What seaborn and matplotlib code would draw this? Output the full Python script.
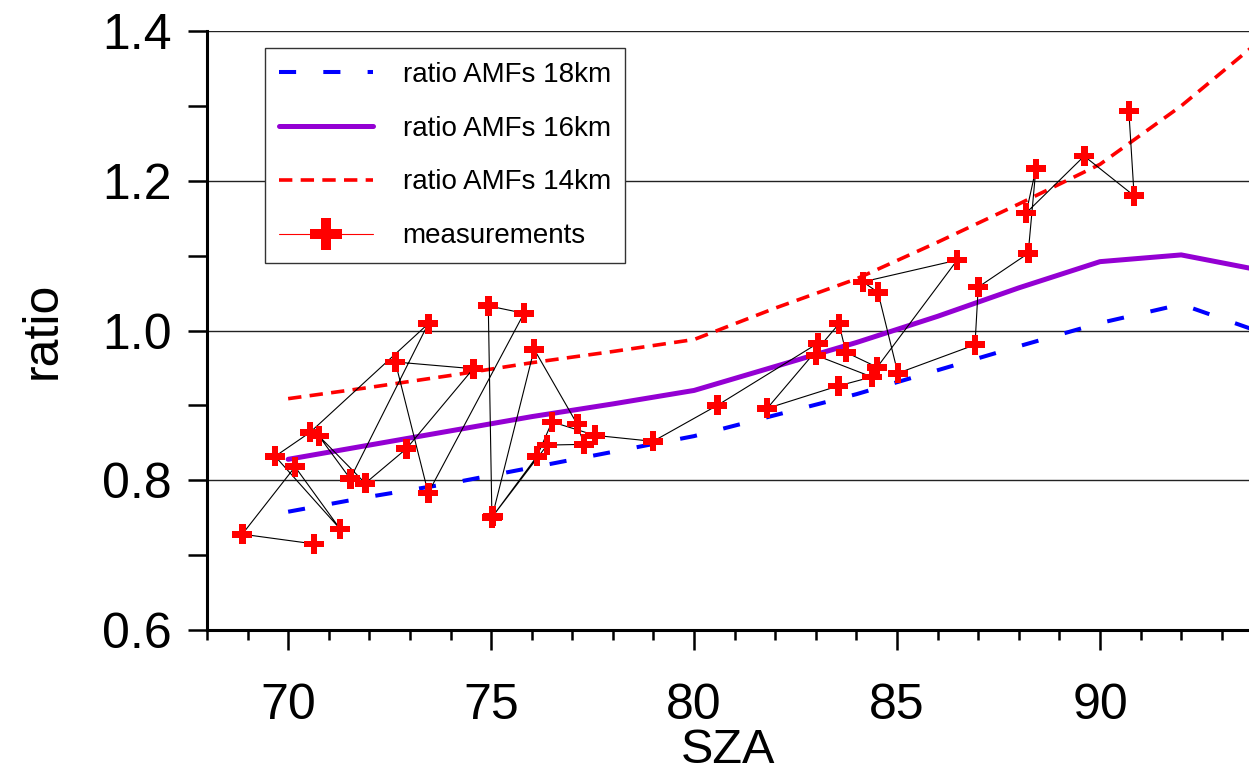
import matplotlib
matplotlib.use("Agg")
import matplotlib.pyplot as plt
from matplotlib.lines import Line2D
from matplotlib.ticker import MultipleLocator, FormatStrFormatter
import seaborn as sns

# Modelled AMF ratios on a 2-degree SZA grid
sza_model = [70, 72, 74, 76, 78, 80, 82, 84, 86, 88, 90, 92, 94]
ratio_18km = [0.758, 0.778, 0.796, 0.817, 0.838, 0.859, 0.887, 0.915, 0.947, 0.979, 1.010, 1.035, 0.997]
ratio_16km = [0.828, 0.847, 0.866, 0.885, 0.902, 0.920, 0.952, 0.984, 1.019, 1.057, 1.092, 1.101, 1.080]
ratio_14km = [0.909, 0.924, 0.940, 0.957, 0.972, 0.988, 1.030, 1.069, 1.118, 1.169, 1.222, 1.300, 1.390]

# Measured ratios, in acquisition order
sza_meas = [70.64, 68.87, 70.17, 71.28, 69.68, 70.54, 73.45, 71.53, 70.76, 71.90,
            72.91, 74.56, 72.64, 73.45, 75.81, 74.93, 75.02, 76.06, 77.12, 77.29,
            76.38, 75.04, 76.13, 76.50, 77.56, 78.99, 80.57, 83.05, 83.00, 84.38,
            83.55, 81.80, 83.57, 83.74, 84.51, 86.48, 84.16, 84.53, 85.02, 86.92,
            87.00, 88.23, 88.42, 88.18, 89.61, 90.84, 90.71]
ratio_meas = [0.715, 0.728, 0.818, 0.735, 0.832, 0.864, 1.009, 0.802, 0.859, 0.796,
              0.842, 0.949, 0.958, 0.783, 1.023, 1.033, 0.750, 0.975, 0.875, 0.848,
              0.847, 0.752, 0.832, 0.878, 0.860, 0.852, 0.900, 0.983, 0.967, 0.938,
              0.926, 0.896, 1.009, 0.971, 0.951, 1.094, 1.065, 1.051, 0.943, 0.981,
              1.058, 1.103, 1.216, 1.157, 1.233, 1.180, 1.293]

labels = ["ratio AMFs 18km", "ratio AMFs 16km", "ratio AMFs 14km", "measurements"]

sns.set_style("ticks")
plt.rcParams["font.family"] = ["Liberation Sans", "DejaVu Sans"]
plt.rcParams.update({
    "text.color": "black",
    "axes.labelcolor": "black",
    "xtick.color": "black",
    "ytick.color": "black",
})

fig = plt.figure(figsize=(12.49, 7.72), dpi=100)
ax = fig.add_axes([0.1657, 0.1839, 0.8343, 0.7759])

blue_ls = (0, (4.25, 6.75))
red_ls = (0, (3.7, 2.3))

sns.lineplot(x=sza_model, y=ratio_18km, ax=ax, color="#0000ff", lw=2.9,
             linestyle=blue_ls, estimator=None, zorder=3)
sns.lineplot(x=sza_model, y=ratio_16km, ax=ax, color="#9400d3", lw=3.6,
             estimator=None, zorder=3)
sns.lineplot(x=sza_model, y=ratio_14km, ax=ax, color="#ff0000", lw=2.6,
             linestyle=red_ls, estimator=None, zorder=3)

# thin black track joining the measurements in time order
sns.lineplot(x=sza_meas, y=ratio_meas, ax=ax, sort=False, estimator=None,
             color="black", lw=0.8, zorder=4)
sns.scatterplot(x=sza_meas, y=ratio_meas, ax=ax, marker="P", s=14.4 ** 2,
                color="#ff0000", edgecolor="none", linewidth=0, zorder=5)

handles = [
    Line2D([], [], color="#0000ff", lw=2.9, linestyle=blue_ls),
    Line2D([], [], color="#9400d3", lw=3.6),
    Line2D([], [], color="#ff0000", lw=2.6, linestyle=red_ls),
    Line2D([], [], color="#ff0000", lw=0.8, marker="P", markersize=23,
           markeredgewidth=0),
]
leg = ax.legend(handles, labels, loc="upper left", bbox_to_anchor=(0.0557, 0.9716),
                borderaxespad=0, frameon=True, fancybox=False, edgecolor="#333333",
                framealpha=1, fontsize=20, handlelength=3.4, handletextpad=1.05,
                labelspacing=1.0, borderpad=0.5)
leg.get_frame().set_linewidth(1.0)

ax.set_xlim(68, 93.67)
ax.set_ylim(0.6, 1.4)
ax.xaxis.set_major_locator(MultipleLocator(5))
ax.xaxis.set_minor_locator(MultipleLocator(1))
ax.yaxis.set_major_locator(MultipleLocator(0.2))
ax.yaxis.set_minor_locator(MultipleLocator(0.1))
ax.yaxis.set_major_formatter(FormatStrFormatter("%.1f"))

ax.tick_params(axis="x", which="major", length=14.4, width=1.8, direction="out",
               pad=24, labelsize=36, color="black", labelcolor="black")
ax.tick_params(axis="x", which="minor", length=7.2, width=1.8, direction="out",
               color="black")
ax.tick_params(axis="y", which="both", length=13.7, width=1.8, direction="out",
               color="black")
ax.tick_params(axis="y", which="major", labelsize=36, pad=11.5, labelcolor="black")

ax.set_axisbelow(True)
ax.yaxis.grid(True, which="major", color="#222222", lw=1.0)
ax.xaxis.grid(False)

for side in ("top", "right"):
    ax.spines[side].set_visible(False)
for side in ("left", "bottom"):
    ax.spines[side].set_linewidth(2.2)
    ax.spines[side].set_color("black")

ax.set_xlabel("SZA", fontsize=35, labelpad=-1, color="black")
ax.set_ylabel("ratio", fontsize=36, labelpad=26, color="black")

fig.savefig("out.png", dpi=100)
